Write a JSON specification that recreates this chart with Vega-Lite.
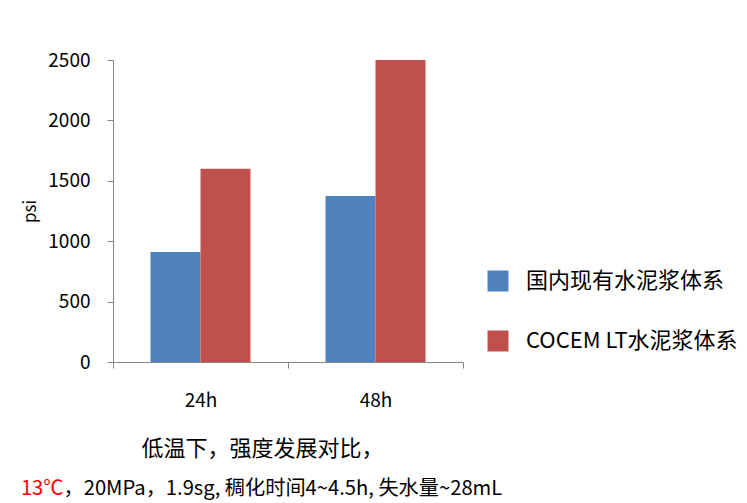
{
  "$schema": "https://vega.github.io/schema/vega-lite/v6.json",
  "width": 350,
  "height": 302,
  "autosize": {"type": "none"},
  "padding": {"left": 113, "top": 60, "right": 284, "bottom": 141},
  "background": "white",
  "config": {
    "view": {"stroke": null},
    "font": "Noto Sans CJK SC",
    "axis": {
      "grid": false,
      "domainColor": "#868686",
      "tickColor": "#868686",
      "labelColor": "#000000",
      "titleColor": "#000000",
      "labelFont": "Noto Sans CJK SC",
      "titleFont": "Noto Sans CJK SC",
      "titleFontWeight": "normal"
    },
    "legend": {"labelFont": "Noto Sans CJK SC", "labelColor": "#000000"}
  },
  "data": {
    "values": [
      {"time": "24h", "system": "国内现有水泥浆体系", "psi": 910},
      {"time": "24h", "system": "COCEM LT水泥浆体系", "psi": 1600},
      {"time": "48h", "system": "国内现有水泥浆体系", "psi": 1375},
      {"time": "48h", "system": "COCEM LT水泥浆体系", "psi": 2500}
    ]
  },
  "layer": [
    {
      "mark": {"type": "bar"},
      "encoding": {
        "x": {
          "field": "time",
          "type": "nominal",
          "sort": ["24h", "48h"],
          "scale": {"paddingInner": 0, "paddingOuter": 0},
          "axis": {
            "orient": "bottom",
            "tickBand": "extent",
            "tickSize": 6,
            "labelAngle": 0,
            "labelFontSize": 19,
            "labelPadding": 23,
            "title": "低温下，强度发展对比，",
            "titleFontSize": 22,
            "titleX": 149,
            "titleY": 86,
            "titleAlign": "center",
            "titleBaseline": "middle"
          }
        },
        "xOffset": {
          "field": "system",
          "type": "nominal",
          "sort": ["国内现有水泥浆体系", "COCEM LT水泥浆体系"],
          "scale": {"paddingInner": 0, "paddingOuter": 0.75}
        },
        "y": {
          "field": "psi",
          "type": "quantitative",
          "stack": null,
          "scale": {"domain": [0, 2500], "nice": false},
          "axis": {
            "values": [0, 500, 1000, 1500, 2000, 2500],
            "format": "d",
            "tickSize": 6,
            "labelFontSize": 19,
            "labelPadding": 17,
            "title": "psi",
            "titleFontSize": 17,
            "titlePadding": 8
          }
        },
        "color": {
          "field": "system",
          "type": "nominal",
          "sort": ["国内现有水泥浆体系", "COCEM LT水泥浆体系"],
          "scale": {
            "domain": ["国内现有水泥浆体系", "COCEM LT水泥浆体系"],
            "range": ["#4F81BD", "#C0504D"]
          },
          "legend": {
            "orient": "none",
            "legendX": 374,
            "legendY": 210,
            "title": null,
            "symbolType": "square",
            "symbolSize": 441,
            "symbolStrokeWidth": 0,
            "symbolOpacity": 1,
            "labelFontSize": 22,
            "labelOffset": 17,
            "rowPadding": 38,
            "padding": 0,
            "labelLimit": 400
          }
        }
      }
    },
    {
      "mark": {"type": "bar", "opacity": 0},
      "encoding": {
        "x": {
          "field": "time",
          "type": "nominal",
          "sort": ["24h", "48h"],
          "axis": {
            "orient": "bottom",
            "labels": false,
            "ticks": false,
            "domain": false,
            "title": "13℃",
            "titleColor": "#FF0000",
            "titleFontSize": 20.2,
            "titleX": -50,
            "titleY": 126,
            "titleAlign": "right",
            "titleBaseline": "middle"
          }
        },
        "y": {"field": "psi", "type": "quantitative", "stack": null}
      }
    },
    {
      "mark": {"type": "bar", "opacity": 0},
      "encoding": {
        "x": {
          "field": "time",
          "type": "nominal",
          "sort": ["24h", "48h"],
          "axis": {
            "orient": "bottom",
            "labels": false,
            "ticks": false,
            "domain": false,
            "title": "，20MPa，1.9sg, 稠化时间4~4.5h, 失水量~28mL",
            "titleColor": "#000000",
            "titleFontSize": 20.2,
            "titleX": -50,
            "titleY": 126,
            "titleAlign": "left",
            "titleBaseline": "middle"
          }
        },
        "y": {"field": "psi", "type": "quantitative", "stack": null}
      }
    }
  ],
  "resolve": {"axis": {"x": "independent"}}
}
